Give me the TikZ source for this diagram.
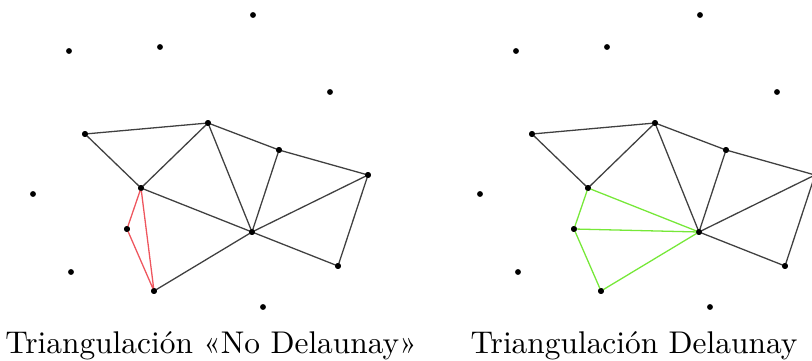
\documentclass[tikz,border=0pt]{standalone}
\usepackage{tikz}
\usetikzlibrary{positioning}

\definecolor{badedge}{RGB}{238,86,94}
\definecolor{goodedge}{RGB}{118,232,56}

\tikzset{
  dot/.style={circle, fill=black, inner sep=0pt, minimum size=5pt},
  edge/.style={draw=black!75, line width=1.1pt},
  badline/.style={draw=badedge, line width=1.1pt},
  goodline/.style={draw=goodedge, line width=1.1pt},
  caption/.style={anchor=base, inner sep=0pt, scale=2.68}
}

\begin{document}
\begin{tikzpicture}[x=0.03cm, y=-0.03cm]
  \useasboundingbox (0,0) rectangle (812,360);
  \clip (0,0) rectangle (812,360);

  % Points (same set on both sides)
  \foreach \n/\x/\y in {p1/253/15, p2/69/51, p3/160/47, p4/330/92,
                        a/85/134, b/208/123, c/279/150, d/368/175,
                        e/141/188, f/33/194, g/127/229, h/252/232,
                        i/338/266, j/71/272, k/154/291, l/263/307} {
    \node[dot] (l\n) at (\x,\y) {};
    \node[dot] (r\n) at (\x+447,\y) {};
  }

  % Common edges
  \foreach \s in {l,r} {
    \draw[edge] (\s a.center) -- (\s b.center) -- (\s c.center) -- (\s d.center);
    \draw[edge] (\s a.center) -- (\s e.center) -- (\s b.center) -- (\s h.center);
    \draw[edge] (\s c.center) -- (\s h.center) -- (\s d.center) -- (\s i.center) -- (\s h.center);
  }

  % Left: not Delaunay
  \draw[edge] (le.center) -- (lh.center) -- (lk.center);
  \draw[badline] (lk.center) -- (le.center) -- (lg.center) -- (lk.center);

  % Right: Delaunay
  \draw[goodline] (re.center) -- (rh.center) -- (rk.center) -- (rg.center) -- (re.center);
  \draw[goodline] (rg.center) -- (rh.center);

  % Redraw the dots on top
  \foreach \n in {a,b,c,d,e,g,h,i,k} {
    \fill (l\n) circle (2.5pt);
    \fill (r\n) circle (2.5pt);
  }

  % Captions
  \node[caption] (capl) at (211,353) {Triangulación «No Delaunay»};
  \node[caption] (capr) at (634,353) {Triangulación Delaunay};
\end{tikzpicture}
\end{document}
